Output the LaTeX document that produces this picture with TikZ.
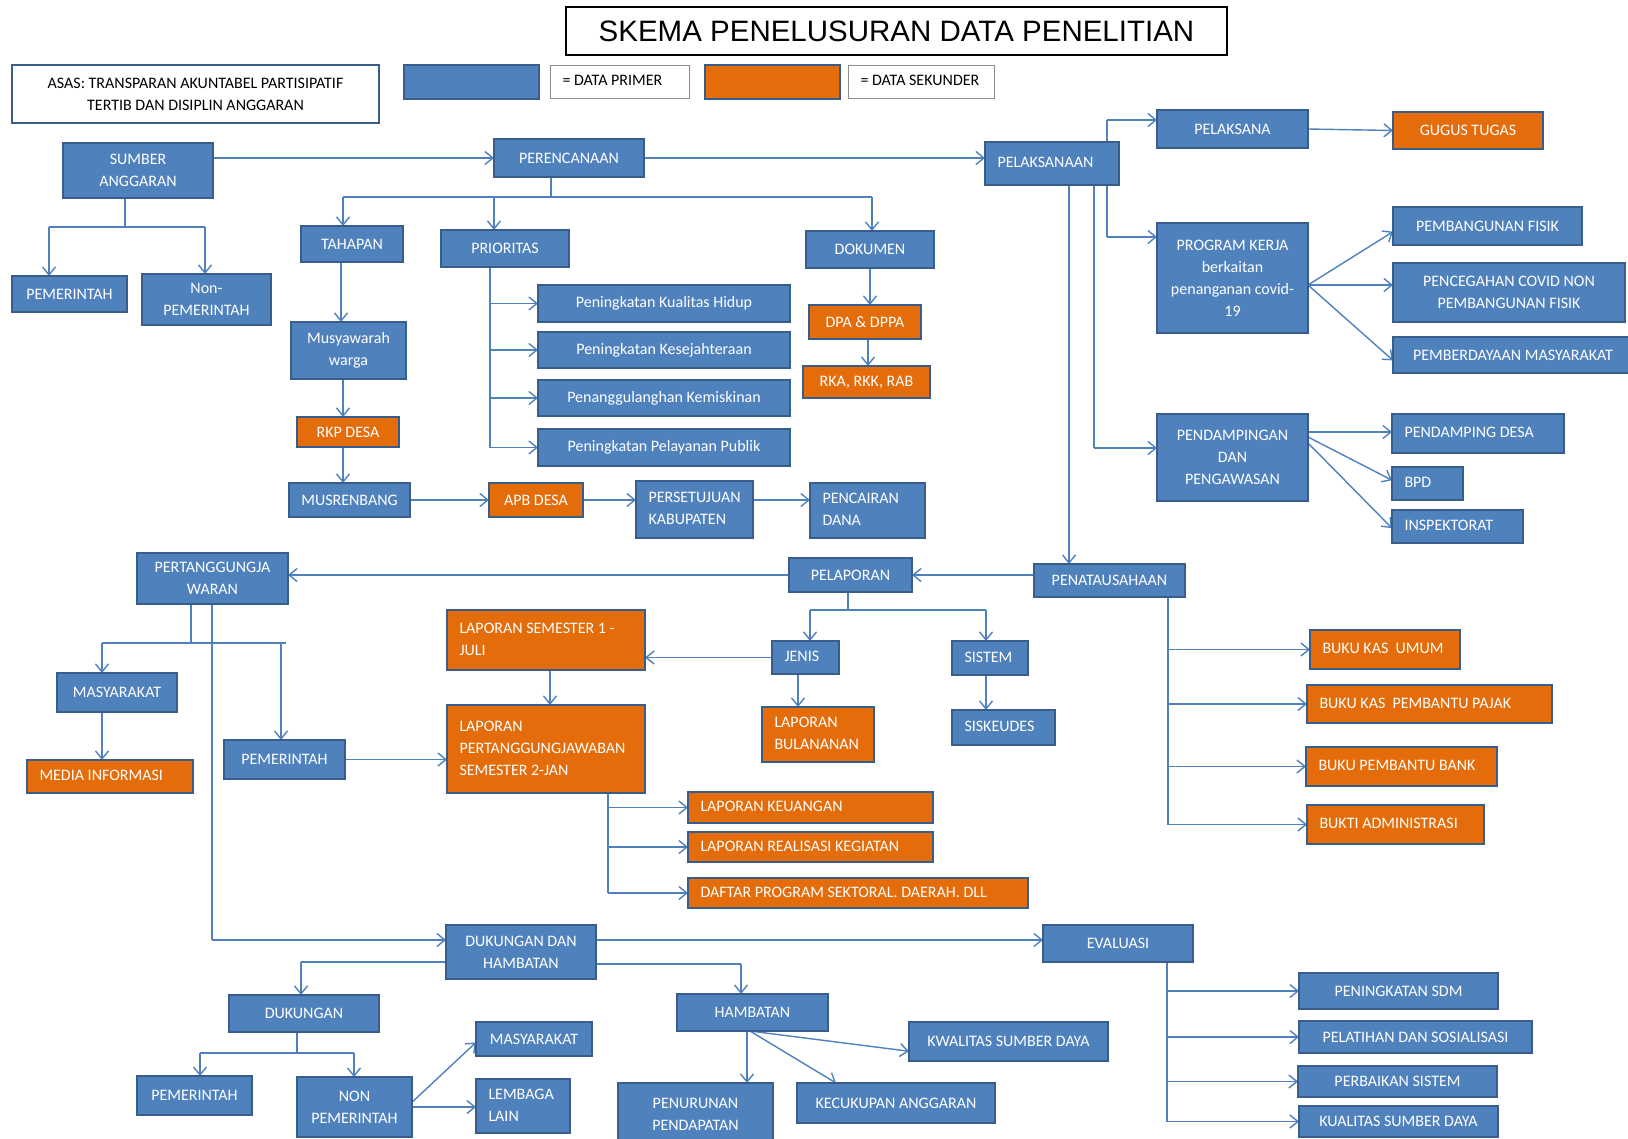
\documentclass[tikz,border=0pt]{standalone}
\usepackage{fontspec}
\setmainfont{Carlito}
\newfontfamily\titlefont{Liberation Sans}
\usetikzlibrary{arrows.meta,calc,backgrounds}

\definecolor{pblue}{HTML}{4F81BD}
\definecolor{sorange}{HTML}{E46C0A}
\definecolor{bord}{HTML}{385D8A}
\definecolor{conn}{HTML}{4F81BD}

% box given by its corners (x1,y1) and (x2,y2)
\newcommand\mkbox[7][]{%
  \pgfmathsetmacro\bxw{#5-#3}%
  \pgfmathsetmacro\bxh{#6-#4}%
  \pgfmathsetmacro\bxtw{#5-#3-25}%
  \pgfmathsetmacro\bxcx{(#3+#5)/2}%
  \pgfmathsetmacro\bxcy{(#4+#6)/2}%
  \node[prim,minimum width=\bxw pt,minimum height=\bxh pt,#1] (#2) at (\bxcx,\bxcy) {#7};}
% same box, text set flush left
\newcommand\mkboxl[7][]{%
  \mkbox[lft,#1]{#2}{#3}{#4}{#5}{#6}{\makebox[\bxtw pt][l]{\begin{tabular}{@{}l@{}}#7\end{tabular}}}}

\tikzset{
  base/.style={draw=bord, line width=1.7pt, text=white,
    font=\fontsize{16}{22}\selectfont, inner xsep=2pt, inner ysep=0pt,
    align=center, outer sep=0pt},
  prim/.style={base, fill=pblue},
  sek/.style={fill=sorange},
  lft/.style={inner xsep=12.5pt},
  legend/.style={fill=white, draw=black!45, line width=1pt, text=black},
  link/.style={draw=conn, line width=1.4pt},
  arr/.style={link, -{Straight Barb[length=8pt,width=13pt]}}
}

\begin{document}
\begin{tikzpicture}[x=1pt,y=-1pt]
\useasboundingbox (0,0) rectangle (1628,1138);

% ---------- title and legend ----------
\mkbox[fill=white,draw=black,line width=1.3pt,text=black,
  font=\titlefont\fontsize{29.5}{34}\selectfont]{title}{566}{7}{1227}{55}{SKEMA PENELUSURAN DATA PENELITIAN}
\mkbox[fill=white,draw=bord,line width=2.4pt,text=black,
  font=\fontsize{16}{22}\selectfont]{asas}{12}{65}{379}{123}{ASAS: TRANSPARAN AKUNTABEL PARTISIPATIF\\TERTIB DAN DISIPLIN ANGGARAN}
\mkbox{legp}{404}{65}{539}{99}{}
\mkboxl[legend]{legpt}{550}{65}{689}{98}{= DATA PRIMER}
\mkbox[sek]{legs}{705}{65}{840}{99}{}
\mkboxl[legend,inner xsep=10.5pt]{legst}{848}{65}{994}{98}{= DATA SEKUNDER}

% ---------- perencanaan ----------
\mkbox{sumber}{63}{143}{213}{198}{SUMBER\\ANGGARAN}
\mkbox{pem1}{12}{276}{127}{312}{PEMERINTAH}
\mkbox{nonpem}{142}{274}{271}{325}{Non-\\PEMERINTAH}
\mkbox{perenc}{494}{139}{644}{177}{PERENCANAAN}
\mkbox{tahap}{301}{226}{403}{262}{TAHAPAN}
\mkbox{prio}{441}{230}{569}{267}{PRIORITAS}
\mkbox{dok}{806}{231}{934}{268}{DOKUMEN}
\mkbox{musy}{291}{322}{406}{379}{Musyawarah\\warga}
\mkbox[sek]{rkp}{297}{417}{399}{447}{RKP DESA}
\mkbox{musren}{289}{483}{410}{517}{MUSRENBANG}
\mkbox[sek]{apb}{489}{483}{583}{517}{APB DESA}
\mkboxl{pers}{636}{481}{753}{538}{PERSETUJUAN\\KABUPATEN}
\mkboxl{pencair}{810}{483}{925}{538}{PENCAIRAN\\DANA}
\mkbox{pk1}{538}{285}{790}{322}{Peningkatan Kualitas Hidup}
\mkbox{pk2}{538}{332}{790}{368}{Peningkatan Kesejahteraan}
\mkbox{pk3}{538}{380}{790}{416}{Penanggulanghan Kemiskinan}
\mkbox{pk4}{538}{429}{790}{466}{Peningkatan Pelayanan Publik}
\mkbox[sek]{dpa}{809}{305}{921}{339}{DPA \& DPPA}
\mkbox[sek]{rka}{803}{366}{930}{398}{RKA, RKK, RAB}

% ---------- pelaksanaan ----------
\mkboxl{pelak}{985}{142}{1119}{185}{PELAKSANAAN}
\mkbox{pelaksana}{1157}{110}{1308}{148}{PELAKSANA}
\mkbox[sek]{gugus}{1393}{112}{1543}{149}{GUGUS TUGAS}
\mkbox{progker}{1157}{223}{1308}{333}{PROGRAM KERJA\\berkaitan\\penanganan covid-\\19}
\mkbox{pf}{1393}{207}{1582}{245}{PEMBANGUNAN FISIK}
\mkbox{pc}{1393}{263}{1625}{322}{PENCEGAHAN COVID NON\\PEMBANGUNAN FISIK}
\mkbox{pm}{1393}{337}{1633}{373}{PEMBERDAYAAN MASYARAKAT}
\mkbox{pendamp}{1157}{414}{1308}{501}{PENDAMPINGAN\\DAN\\PENGAWASAN}
\mkboxl{pdesa}{1392}{414}{1564}{453}{PENDAMPING DESA}
\mkboxl{bpd}{1392}{467}{1463}{500}{BPD}
\mkboxl{insp}{1392}{510}{1523}{543}{INSPEKTORAT}

% ---------- penatausahaan and pelaporan ----------
\mkbox{pelap}{789}{558}{912}{592}{PELAPORAN}
\mkbox{penat}{1034}{564}{1185}{597}{PENATAUSAHAAN}
\mkbox{pertj}{137}{553}{288}{604}{PERTANGGUNGJA\\WARAN}
\mkboxl{jenis}{772}{641}{839}{674}{JENIS}
\mkboxl{sistem}{952}{641}{1028}{675}{SISTEM}
\mkboxl[sek]{sem1}{447}{610}{645}{670}{LAPORAN SEMESTER 1 -\\JULI}
\mkboxl[sek]{lpj}{447}{705}{645}{793}{LAPORAN\\PERTANGGUNGJAWABAN\\SEMESTER 2-JAN}
\mkboxl[sek]{bul}{762}{707}{874}{762}{LAPORAN\\BULANANAN}
\mkboxl{sisk}{952}{710}{1055}{745}{SISKEUDES}
\mkbox{masy1}{57}{673}{177}{712}{MASYARAKAT}
\mkboxl[sek]{media}{27}{760}{193}{793}{MEDIA INFORMASI}
\mkbox{pem2}{224}{740}{345}{779}{PEMERINTAH}
\mkboxl[sek]{lk}{688}{792}{933}{823}{LAPORAN KEUANGAN}
\mkboxl[sek]{lrk}{688}{832}{933}{862}{LAPORAN REALISASI KEGIATAN}
\mkboxl[sek]{dp}{688}{878}{1028}{908}{DAFTAR PROGRAM SEKTORAL. DAERAH. DLL}
\mkboxl[sek]{bku}{1310}{630}{1460}{669}{BUKU KAS~ UMUM}
\mkboxl[sek]{bkpp}{1307}{685}{1552}{723}{BUKU KAS~ PEMBANTU PAJAK}
\mkboxl[sek]{bpb}{1306}{747}{1497}{786}{BUKU PEMBANTU BANK}
\mkboxl[sek]{ba}{1307}{805}{1484}{844}{BUKTI ADMINISTRASI}

% ---------- dukungan, hambatan, evaluasi ----------
\mkbox{ddh}{446}{925}{596}{979}{DUKUNGAN DAN\\HAMBATAN}
\mkbox{eval}{1043}{925}{1193}{962}{EVALUASI}
\mkbox{duk}{229}{995}{379}{1032}{DUKUNGAN}
\mkbox{pem3}{137}{1076}{252}{1115}{PEMERINTAH}
\mkbox{nonp}{297}{1077}{412}{1137}{NON\\PEMERINTAH}
\mkbox{masy2}{476}{1022}{592}{1056}{MASYARAKAT}
\mkboxl{lemb}{476}{1079}{570}{1133}{LEMBAGA\\LAIN}
\mkbox{hamb}{677}{994}{828}{1031}{HAMBATAN}
\mkbox{pen}{618}{1083}{773}{1145}{PENURUNAN\\PENDAPATAN}
\mkbox{kec}{797}{1083}{995}{1123}{KECUKUPAN ANGGARAN}
\mkbox{kwal}{909}{1022}{1108}{1061}{KWALITAS SUMBER DAYA}
\mkbox{sdm}{1299}{973}{1498}{1009}{PENINGKATAN SDM}
\mkbox{pel}{1299}{1021}{1532}{1053}{PELATIHAN DAN SOSIALISASI}
\mkbox{perb}{1298}{1066}{1497}{1097}{PERBAIKAN SISTEM}
\mkbox{kual}{1299}{1106}{1498}{1137}{KUALITAS SUMBER DAYA}

% ---------- connectors, behind the boxes ----------
\begin{scope}[on background layer]
\fill[white] (0,0) rectangle (1628,1138);

% sumber anggaran
\draw[arr] (perenc.west -| sumber.east) -- (perenc.west);
\coordinate (sa) at (125,227); \coordinate (sl) at (49,227); \coordinate (sr) at (205,227);
\draw[link] (sa |- sumber.south) -- (sa);
\draw[link] (sl) -- (sr);
\draw[arr] (sl) -- (sl |- pem1.north);
\draw[arr] (sr) -- (sr |- nonpem.north);

% perencanaan
\coordinate (pa) at (551,197); \coordinate (pl) at (343,197);
\coordinate (pr) at (872,197); \coordinate (pq) at (494,197);
\draw[link] (pa |- perenc.south) -- (pa);
\draw[link] (pl) -- (pr);
\draw[arr] (pl) -- (pl |- tahap.north);
\draw[arr] (pq) -- (pq |- prio.north);
\draw[arr] (pr) -- (pr |- dok.north);
\draw[arr] (perenc.east) -- (perenc.east -| pelak.west);

\coordinate (tx) at (341,0); \coordinate (ty) at (343,0);
\draw[arr] (tx |- tahap.south) -- (tx |- musy.north);
\draw[arr] (ty |- musy.south) -- (ty |- rkp.north);
\draw[arr] (ty |- rkp.south) -- (ty |- musren.north);
\draw[arr] (musren.east) -- (apb.west);
\draw[arr] (apb.east) -- (apb.east -| pers.west);
\draw[arr] (apb.east -| pers.east) -- (apb.east -| pencair.west);

\coordinate (px) at (490,0);
\draw[link] (px |- prio.south) -- (px |- pk4.west);
\foreach \b in {pk1,pk2,pk3,pk4} \draw[arr] (px |- \b.west) -- (\b.west);

\coordinate (dx) at (870,0); \coordinate (dy) at (868,0);
\draw[arr] (dx |- dok.south) -- (dx |- dpa.north);
\draw[arr] (dy |- dpa.south) -- (dy |- rka.north);

% pelaksanaan
\coordinate (q1) at (1107,120); \coordinate (q2) at (1107,237);
\draw[link] (q1) -- (q2);
\draw[arr] (q1) -- (q1 -| pelaksana.west);
\draw[arr] (q2) -- (q2 -| progker.west);
\draw[arr] (pelaksana.east) -- (gugus.west);
\coordinate (po) at (1308,285);
\draw[arr] (po) -- ($(pf.south west)!0.35!(pf.north west)$);
\draw[arr] (po) -- (po -| pc.west);
\draw[arr] (po) -- ($(pm.south west)!0.35!(pm.north west)$);

\coordinate (r1) at (1094,448); \coordinate (r2) at (1069,0);
\draw[link] (r1 |- pelak.south) -- (r1);
\draw[arr] (r1) -- (r1 -| pendamp.west);
\draw[arr] (r2 |- pelak.south) -- (r2 |- penat.north);
\coordinate (d1) at (1308,432); \coordinate (d2) at (1308,437); \coordinate (d3) at (1308,443);
\draw[arr] (d1) -- (d1 -| pdesa.west);
\draw[arr] (d2) -- ($(bpd.south west)!0.6!(bpd.north west)$);
\draw[arr] (d3) -- ($(insp.south west)!0.45!(insp.north west)$);

% penatausahaan
\draw[arr] (pelap.east -| penat.west) -- (pelap.east);
\coordinate (tz) at (1168,0);
\draw[link] (tz |- penat.south) -- (tz |- ba.west);
\foreach \b in {bku,bkpp,bpb,ba} \draw[arr] (tz |- \b.west) -- (\b.west);

% pelaporan
\draw[arr] (pelap.west) -- (pelap.west -| pertj.east);
\coordinate (l0) at (848,610); \coordinate (l1) at (810,610); \coordinate (l2) at (986,610);
\draw[link] (l0 |- pelap.south) -- (l0);
\draw[link] (l1) -- (l2);
\draw[arr] (l1) -- (l1 |- jenis.north);
\draw[arr] (l2) -- (l2 |- sistem.north);
\draw[arr] (jenis.west) -- (jenis.west -| sem1.east);
\coordinate (jx) at (798,0);
\draw[arr] (jx |- jenis.south) -- (jx |- bul.north);
\draw[arr] (l2 |- sistem.south) -- (l2 |- sisk.north);
\coordinate (sx) at (550,0);
\draw[arr] (sx |- sem1.south) -- (sx |- lpj.north);

% pertanggungjawaban
\coordinate (m0) at (191,643); \coordinate (m1) at (102,643);
\coordinate (m2) at (286,643); \coordinate (m3) at (281,643);
\draw[link] (m0 |- pertj.south) -- (m0);
\draw[link] (m1) -- (m2);
\draw[arr] (m1) -- (m1 |- masy1.north);
\draw[arr] (m3) -- (m3 |- pem2.north);
\draw[arr] (m1 |- masy1.south) -- (m1 |- media.north);
\draw[arr] (pem2.east) -- (pem2.east -| lpj.west);
\coordinate (m4) at (212,940);
\draw[link] (m4 |- pertj.south) -- (m4);
\draw[arr] (m4) -- (m4 -| ddh.west);

\coordinate (n0) at (608,0);
\draw[link] (n0 |- lpj.south) -- (n0 |- dp.west);
\foreach \b in {lk,lrk,dp} \draw[arr] (n0 |- \b.west) -- (\b.west);

% dukungan dan hambatan
\draw[arr] (m4 -| ddh.east) -- (m4 -| eval.west);
\coordinate (k1) at (301,962); \coordinate (k2) at (741,964);
\draw[link] (k1 -| ddh.west) -- (k1);
\draw[arr] (k1) -- (k1 |- duk.north);
\draw[link] (k2 -| ddh.east) -- (k2);
\draw[arr] (k2) -- (k2 |- hamb.north);

\coordinate (u0) at (297,1053); \coordinate (u1) at (200,1053); \coordinate (u2) at (354,1053);
\draw[link] (u0 |- duk.south) -- (u0);
\draw[link] (u1) -- (u2);
\draw[arr] (u1) -- (u1 |- pem3.north);
\draw[arr] (u2) -- (u2 |- nonp.north);
\draw[arr] ($(nonp.south east)!0.58!(nonp.north east)$) -- ($(masy2.south west)!0.4!(masy2.north west)$);
\draw[arr] (nonp.east) -- (nonp.east -| lemb.west);

\coordinate (h0) at (747,0); \coordinate (h1) at (750,0); \coordinate (h2) at (836,0);
\draw[arr] (h0 |- hamb.south) -- (h0 |- pen.north);
\draw[arr] (h1 |- hamb.south) -- (h2 |- kec.north);
\draw[arr] (h1 |- hamb.south) -- ($(kwal.south west)!0.25!(kwal.north west)$);

% evaluasi
\coordinate (e0) at (1167,0);
\draw[link] (e0 |- eval.south) -- (e0 |- kual.west);
\foreach \b in {sdm,pel,perb,kual} \draw[arr] (e0 |- \b.west) -- (\b.west);
\end{scope}
\end{tikzpicture}
\end{document}
